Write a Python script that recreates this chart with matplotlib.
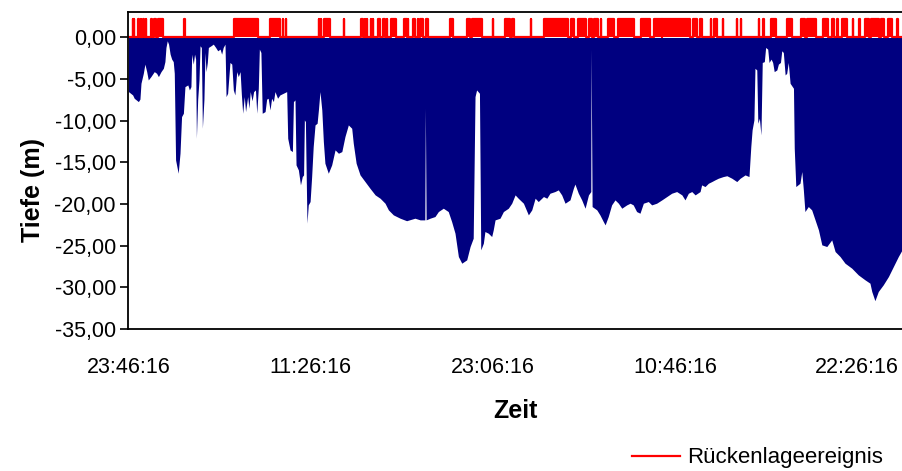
import matplotlib
matplotlib.use("Agg")
import matplotlib.pyplot as plt
from matplotlib.ticker import FixedLocator, FuncFormatter

plt.rcParams['font.family'] = ['Liberation Sans', 'DejaVu Sans']

# Tauchprofil: Minuten seit 23:46:16 und Tiefe in m
zeit_min = [0, 16, 22, 38, 44, 48, 57, 63, 70, 76, 86, 99, 108, 115, 125, 134, 140, 144, 149,
            154, 160, 166, 172, 176, 181, 191, 198, 204, 211, 217, 228, 234, 240, 243, 249,
            254, 258, 261, 266, 271, 275, 280, 284, 290, 294, 298, 303, 307, 317, 326, 335,
            343, 352, 358, 364, 371, 375, 381, 390, 397, 403, 409, 416, 422, 429, 434, 439,
            445, 450, 458, 463, 468, 475, 481, 488, 493, 499, 503, 509, 514, 525, 531, 537,
            544, 550, 557, 563, 573, 582, 595, 608, 612, 621, 630, 634, 640, 644, 653, 661,
            668, 673, 676, 680, 682, 686, 691, 698, 704, 710, 717, 725, 730, 736, 743, 749,
            755, 768, 781, 794, 807, 820, 832, 845, 858, 864, 875, 890, 909, 928, 948, 967,
            986, 999, 1018, 1044, 1069, 1101, 1121, 1139, 1141, 1144, 1159, 1178, 1191, 1210,
            1229, 1242, 1255, 1268, 1281, 1300, 1313, 1325, 1332, 1338, 1349, 1354, 1364,
            1370, 1383, 1396, 1402, 1409, 1428, 1441, 1460, 1473, 1486, 1498, 1518, 1537,
            1550, 1563, 1575, 1595, 1608, 1620, 1639, 1652, 1665, 1678, 1697, 1710, 1716,
            1729, 1742, 1755, 1768, 1777, 1778, 1782, 1800, 1812, 1825, 1832, 1844, 1857,
            1870, 1883, 1896, 1915, 1928, 1940, 1953, 1966, 1979, 1998, 2011, 2030, 2050,
            2069, 2088, 2107, 2127, 2139, 2152, 2165, 2178, 2197, 2203, 2216, 2229, 2242,
            2254, 2267, 2286, 2300, 2319, 2338, 2351, 2370, 2385, 2392, 2397, 2404, 2408,
            2415, 2419, 2425, 2431, 2436, 2444, 2449, 2457, 2462, 2470, 2476, 2482, 2492,
            2498, 2506, 2511, 2517, 2524, 2530, 2536, 2543, 2556, 2559, 2565, 2581, 2588,
            2594, 2600, 2613, 2626, 2639, 2652, 2665, 2684, 2703, 2716, 2735, 2754, 2780,
            2805, 2831, 2850, 2857, 2869, 2882, 2901, 2921, 2940, 2959, 2977]
tiefe_m = [-6.5, -6.9, -7.3, -7.7, -7.4, -5.5, -4.3, -3.2, -4.1, -5.1, -4.7, -4.1, -4.3, -4.7,
           -4.1, -3.7, -2.9, -1.2, -0.4, -0.8, -2.0, -2.6, -2.9, -4.3, -14.7, -16.3, -13.9,
           -9.5, -9.1, -5.9, -5.7, -6.3, -5.9, -2.0, -3.2, -2.0, -2.6, -12.1, -7.4, -5.1,
           -1.0, -1.2, -10.9, -7.4, -1.8, -4.1, -3.0, -1.2, -1.0, -0.8, -1.2, -1.6, -1.4,
           -2.0, -1.2, -0.8, -7.1, -6.7, -3.0, -3.2, -6.3, -6.9, -4.1, -4.7, -4.1, -6.9,
           -9.1, -7.1, -8.9, -7.1, -8.5, -6.5, -7.6, -6.5, -6.3, -9.1, -6.1, -1.4, -1.8,
           -9.1, -8.9, -7.4, -7.3, -8.7, -7.3, -7.7, -6.5, -7.3, -6.9, -6.7, -6.5, -12.1,
           -13.5, -13.7, -7.7, -7.5, -15.3, -15.9, -17.7, -16.7, -16.5, -9.9, -10.1, -14.3,
           -22.3, -20.1, -19.7, -16.7, -13.1, -10.5, -10.3, -8.7, -6.5, -8.7, -12.5, -15.1,
           -16.3, -15.3, -13.5, -13.9, -13.7, -11.9, -10.5, -10.9, -12.7, -15.1, -16.5,
           -17.3, -18.1, -18.9, -19.3, -19.9, -20.7, -21.3, -21.7, -22.0, -21.7, -21.9,
           -21.9, -8.5, -21.9, -21.7, -21.5, -20.9, -20.5, -20.9, -22.1, -23.5, -26.3,
           -27.1, -26.7, -25.1, -24.1, -7.1, -6.3, -6.7, -25.5, -24.7, -23.3, -23.5, -23.9,
           -23.1, -21.9, -21.7, -20.9, -20.5, -19.9, -18.9, -19.3, -19.9, -21.3, -20.7,
           -19.3, -19.7, -19.1, -19.3, -18.7, -18.5, -18.3, -18.9, -19.9, -19.5, -18.1,
           -17.6, -18.7, -19.5, -20.5, -18.9, -18.5, -1.4, -20.3, -20.7, -21.3, -22.1,
           -22.5, -21.5, -20.1, -19.5, -19.9, -20.5, -20.1, -19.9, -20.1, -20.9, -21.1,
           -19.9, -19.7, -20.1, -19.9, -19.5, -19.1, -18.7, -18.5, -18.9, -19.5, -18.7,
           -18.5, -18.9, -18.5, -17.7, -17.9, -17.5, -17.3, -17.1, -16.9, -16.7, -16.6,
           -16.9, -17.3, -16.9, -16.5, -16.7, -13.1, -11.1, -9.9, -3.7, -3.9, -10.3, -9.7,
           -11.7, -3.0, -2.9, -1.2, -1.4, -3.0, -2.6, -3.0, -4.1, -3.9, -3.2, -3.0, -1.6,
           -1.8, -4.5, -4.3, -3.0, -5.5, -6.1, -13.3, -17.9, -17.5, -16.1, -18.3, -20.9,
           -20.3, -20.7, -21.9, -23.1, -24.9, -25.1, -24.3, -25.7, -26.3, -27.1, -27.7,
           -28.5, -29.1, -29.5, -30.5, -31.6, -30.5, -29.7, -28.7, -27.5, -26.3, -25.3]

# Rückenlage-Ereignisse: Beginn und Ende in Minuten
ereignis_start = [16, 21, 38, 47, 55, 67, 85, 98, 115, 213, 407, 544, 595, 604, 732, 740, 751,
                  829, 893, 909, 918, 931, 941, 960, 979, 993, 1008, 1059, 1076, 1095, 1112,
                  1121, 1144, 1236, 1300, 1319, 1402, 1447, 1475, 1546, 1597, 1701, 1729,
                  1771, 1791, 1815, 1844, 1883, 1969, 2020, 2052, 2169, 2196, 2238, 2252,
                  2284, 2338, 2353, 2425, 2438, 2469, 2530, 2586, 2607, 2669, 2705, 2722,
                  2742, 2784, 2806, 2832, 2854, 2891, 2921, 2953]
ereignis_ende = [16, 21, 42, 47, 60, 67, 91, 106, 134, 217, 499, 582, 595, 604, 732, 740, 774,
                 829, 900, 909, 918, 931, 941, 967, 986, 993, 1028, 1069, 1076, 1101, 1112,
                 1133, 1152, 1249, 1313, 1358, 1402, 1466, 1482, 1546, 1691, 1712, 1759,
                 1781, 1806, 1815, 1867, 1943, 2005, 2050, 2158, 2186, 2205, 2238, 2261,
                 2284, 2338, 2353, 2425, 2444, 2489, 2552, 2599, 2643, 2690, 2713, 2728,
                 2762, 2784, 2812, 2845, 2884, 2904, 2934, 2959]
ereignis_hoehe = 2.2

tick_min = [0, 700, 1400, 2100, 2800]
tick_labels = ['23:46:16', '11:26:16', '23:06:16', '10:46:16', '22:26:16']
y_ticks = [0, -5, -10, -15, -20, -25, -30, -35]

fig = plt.figure(figsize=(9.03, 4.71), dpi=100)
ax = fig.add_axes([0.1423, 0.3015, 0.8577, 0.672])

ax.fill_between(zeit_min, tiefe_m, 0, color='#000080', linewidth=0)

# Ereignisse als Rechteckimpulse auf der Nulllinie
ex, ey = [0], [0]
for a, b in zip(ereignis_start, ereignis_ende):
    ex += [a, a, b, b]
    ey += [0, ereignis_hoehe, ereignis_hoehe, 0]
ex.append(2977)
ey.append(0)
ax.fill_between(ex, ey, 0, color='#FF0000', linewidth=0)
ax.plot(ex, ey, color='#FF0000', linewidth=1.6, label='Rückenlageereignis')

ax.set_xlim(0, 2977)
ax.set_ylim(-35, 3.0)
ax.xaxis.set_major_locator(FixedLocator(tick_min))
ax.set_xticklabels(tick_labels)
ax.yaxis.set_major_locator(FixedLocator(y_ticks))
ax.yaxis.set_major_formatter(FuncFormatter(lambda v, p: f'{v:.2f}'.replace('.', ',')))
ax.tick_params(axis='x', length=0, pad=20, labelsize=15.5)
ax.tick_params(axis='y', length=6, width=1.2, direction='out', pad=3, labelsize=15.5)
for s in ax.spines.values():
    s.set_linewidth(1.3)
    s.set_color('black')

ax.set_ylabel('Tiefe (m)', fontsize=18, fontweight='bold')
ax.yaxis.set_label_coords(-0.108, 0.44)
ax.set_xlabel('Zeit', fontsize=18, fontweight='bold')
ax.xaxis.set_label_coords(0.5, -0.22)

fig.legend(loc='center left', bbox_to_anchor=(0.690, 0.028), frameon=False, fontsize=16,
           handlelength=2.15, handletextpad=0.35, borderaxespad=0)

fig.savefig('out.png', dpi=100)
